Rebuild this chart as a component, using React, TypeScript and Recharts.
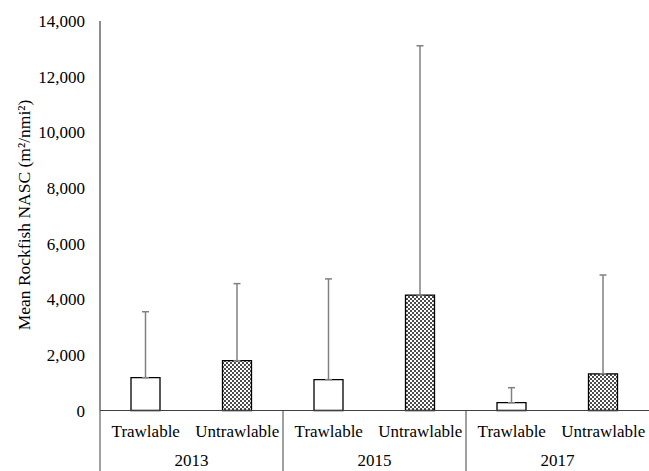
import React from "react";
import { BarChart, Bar, XAxis, YAxis, ErrorBar, Cell } from "recharts";

// values (m²/nmi²)
const years = ["2013", "2015", "2017"];
const habitats = ["Trawlable", "Untrawlable"];
const meanTrawlable = [1180, 1110, 280];
const meanUntrawlable = [1790, 4150, 1320];
const upperTrawlable = [3550, 4730, 820];
const upperUntrawlable = [4560, 13110, 4870];
const yTicks = [0, 2000, 4000, 6000, 8000, 10000, 12000, 14000];

const rows = years.flatMap((year, i) => [
  {
    year,
    habitat: habitats[0],
    mean: meanTrawlable[i],
    err: [0, upperTrawlable[i] - meanTrawlable[i]],
  },
  {
    year,
    habitat: habitats[1],
    mean: meanUntrawlable[i],
    err: [0, upperUntrawlable[i] - meanUntrawlable[i]],
  },
]);

const font = '"Liberation Serif", "Times New Roman", serif';
const axisColor = "#404040";

function HabitatTick(props: any) {
  const { x, y, payload } = props;
  return (
    <text x={x} y={y + 21} dy="0.35em" textAnchor="middle" fontFamily={font} fontSize={17} fill="#000">
      {payload.value}
    </text>
  );
}

function YearTick(props: any) {
  const { x, y, payload } = props;
  const half = payload.offset ?? 0;
  return (
    <g>
      <line x1={x - half} x2={x - half} y1={y - 30} y2={y + 31} stroke={axisColor} strokeWidth={1} />
      <text x={x} y={y + 20} dy="0.35em" textAnchor="middle" fontFamily={font} fontSize={17} fill="#000">
        {payload.value}
      </text>
    </g>
  );
}

function YLabel() {
  return (
    <text
      x={24}
      y={215}
      transform="rotate(-90 24 215)"
      textAnchor="middle"
      dominantBaseline="central"
      fontFamily={font}
      fontSize={17.5}
      fill="#000"
    >
      Mean Rockfish NASC (m²/nmi²)
    </text>
  );
}

export default function App() {
  return (
    <div style={{ position: "absolute", left: 0, top: 0, width: 649, height: 471, background: "#fff" }}>
      <BarChart
        width={649}
        height={471}
        data={rows}
        margin={{ top: 21, right: 0, bottom: 0, left: 0 }}
        barCategoryGap={0}
      >
        <defs>
          <pattern id="dots" width={4} height={4} patternUnits="userSpaceOnUse">
            <rect width={4} height={4} fill="#fff" />
            <circle cx={1} cy={1} r={0.95} fill="#000" />
            <circle cx={3} cy={3} r={0.95} fill="#000" />
          </pattern>
        </defs>
        <XAxis
          dataKey="habitat"
          height={30}
          tickLine={false}
          tickSize={0}
          tickMargin={0}
          interval={0}
          axisLine={{ stroke: axisColor, strokeWidth: 1.2 }}
          tick={<HabitatTick />}
        />
        <XAxis
          xAxisId="year"
          dataKey="year"
          allowDuplicatedCategory={false}
          height={30.5}
          tickLine={false}
          tickSize={0}
          tickMargin={0}
          interval={0}
          axisLine={false}
          tick={<YearTick />}
        />
        <YAxis
          width={100}
          domain={[0, 14000]}
          ticks={yTicks}
          interval={0}
          tickLine={false}
          tickSize={0}
          tickMargin={15}
          axisLine={{ stroke: axisColor, strokeWidth: 1.2 }}
          tick={{ fontFamily: font, fontSize: 17, fill: "#000" }}
          tickFormatter={(v: number) => v.toLocaleString("en-US")}
          label={() => <YLabel />}
        />
        <Bar dataKey="mean" barSize={29} stroke="#000" strokeWidth={1.3} isAnimationActive={false}>
          {rows.map((r, i) => (
            <Cell key={i} fill={r.habitat === "Trawlable" ? "#fff" : "url(#dots)"} />
          ))}
          <ErrorBar dataKey="err" direction="y" width={3.5} stroke="#808080" strokeWidth={1.5} />
        </Bar>
      </BarChart>
    </div>
  );
}
